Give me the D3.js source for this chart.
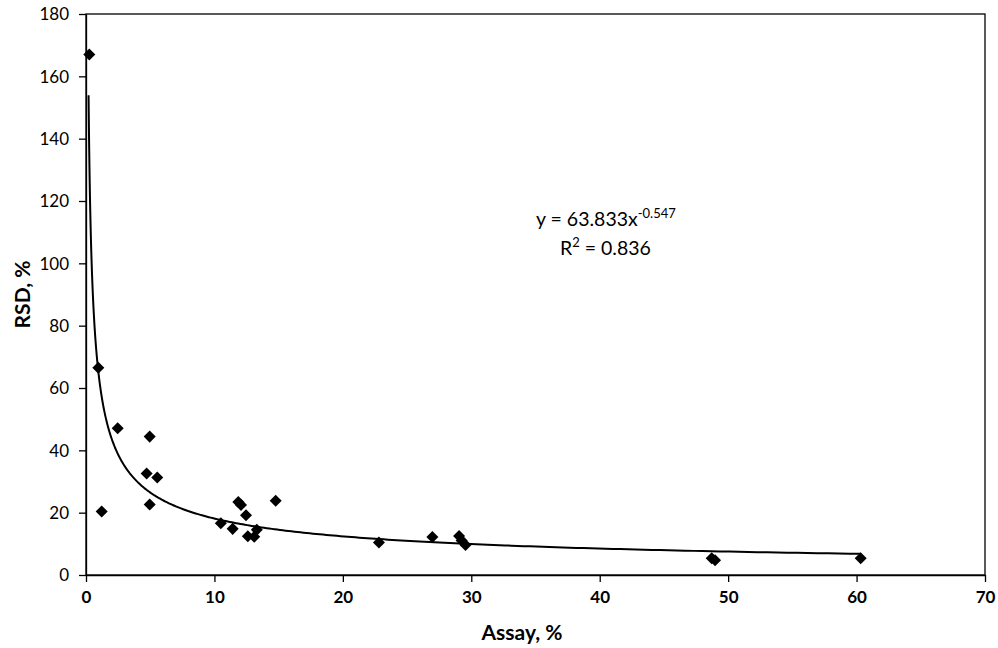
<!DOCTYPE html>
<html>
<head>
<meta charset="utf-8">
<script src="https://cdn.jsdelivr.net/npm/d3@7"></script>
<style>
  html, body { margin: 0; padding: 0; background: #fff; }
  svg { display: block; font-family: Lato, "Noto Sans", sans-serif; }
</style>
</head>
<body>
<svg id="chart" width="998" height="648"></svg>
<script>
// Data
const assay = [0.26, 0.96, 1.22, 2.47, 4.72, 4.96, 4.96, 5.55, 10.5, 11.42, 11.86, 12.07, 12.46, 12.6, 13.1, 13.3, 14.77, 22.81, 26.97, 29.05, 29.25, 29.55, 48.72, 48.98, 60.32];
const rsd   = [167.0, 66.5, 20.4, 47.1, 32.6, 44.4, 22.6, 31.3, 16.6, 14.8, 23.4, 22.5, 19.2, 12.4, 12.3, 14.5, 23.8, 10.4, 12.2, 12.5, 11.1, 9.6, 5.4, 4.7, 5.4];

// Power trendline shown on the chart: y = 63.833 x^-0.547
const fitCoef = 63.833;
const fitExp = -0.547;
const fitRange = [0.2, 60.32];

const xTicks = [0, 10, 20, 30, 40, 50, 60, 70];
const yTicks = [0, 20, 40, 60, 80, 100, 120, 140, 160, 180];

const svg = d3.select("#chart");
const m = { left: 86, right: 13, top: 14, bottom: 73 };
const W = 998, H = 648;

const x = d3.scaleLinear().domain([0, 70]).range([m.left, W - m.right]);
const y = d3.scaleLinear().domain([0, 180]).range([H - m.bottom, m.top]);

// plot box (top & right)
svg.append("rect")
  .attr("x", x(0)).attr("y", y(180))
  .attr("width", x(70) - x(0)).attr("height", y(0) - y(180))
  .attr("fill", "none").attr("stroke", "#000").attr("stroke-width", 1.3);

const xAxis = svg.append("g")
  .attr("transform", `translate(0,${y(0)})`)
  .call(d3.axisBottom(x).tickValues(xTicks).tickSize(7).tickPadding(9).tickSizeOuter(0));
xAxis.selectAll("text").attr("font-size", 17).attr("font-weight", "bold")
  .attr("font-family", "Lato, sans-serif").attr("fill", "#000");

const yAxis = svg.append("g")
  .attr("transform", `translate(${x(0)},0)`)
  .call(d3.axisLeft(y).tickValues(yTicks).tickSize(7).tickPadding(10).tickSizeOuter(0));
yAxis.selectAll("text").attr("font-size", 17)
  .attr("font-family", "Lato, sans-serif").attr("fill", "#000").attr("dy", "0.35em");

[xAxis, yAxis].forEach(g => {
  g.select(".domain").attr("stroke", "#000").attr("stroke-width", 1.3);
  g.selectAll(".tick line").attr("stroke", "#000").attr("stroke-width", 1.3);
});

// trendline from fitted equation
const fitPts = d3.range(0, 401).map(i => {
  const t = i / 400;
  const xv = Math.exp(Math.log(fitRange[0]) + t * (Math.log(fitRange[1]) - Math.log(fitRange[0])));
  return [xv, fitCoef * Math.pow(xv, fitExp)];
});
svg.append("path")
  .attr("d", d3.line().x(d => x(d[0])).y(d => y(d[1])).curve(d3.curveLinear)(fitPts))
  .attr("fill", "none").attr("stroke", "#000").attr("stroke-width", 2);

// diamond markers
const diamond = d3.symbol().type(d3.symbolDiamond2).size(92);
svg.append("g").selectAll("path")
  .data(assay.map((a, i) => [a, rsd[i]]))
  .join("path")
  .attr("transform", d => `translate(${x(d[0])},${y(d[1])})`)
  .attr("d", diamond)
  .attr("fill", "#000");

// equation text
const eq = svg.append("text")
  .attr("x", 536).attr("y", 226)
  .attr("font-size", 19.5).attr("fill", "#000");
eq.append("tspan").text("y = 63.833x");
eq.append("tspan").attr("dy", -8).attr("font-size", 13).text("-0.547");

const r2 = svg.append("text")
  .attr("x", 560).attr("y", 255)
  .attr("font-size", 19.5).attr("fill", "#000");
r2.append("tspan").text("R");
r2.append("tspan").attr("dy", -8).attr("font-size", 13).text("2");
r2.append("tspan").attr("dy", 8).text(" = 0.836");

// axis titles
svg.append("text")
  .attr("x", 522).attr("y", 640)
  .attr("text-anchor", "middle")
  .attr("font-size", 21).attr("font-weight", "bold").attr("fill", "#000")
  .text("Assay, %");

svg.append("text")
  .attr("transform", `translate(30,${(y(0) + y(180)) / 2}) rotate(-90)`)
  .attr("text-anchor", "middle")
  .attr("font-size", 21).attr("font-weight", "bold").attr("fill", "#000")
  .text("RSD, %");
</script>
</body>
</html>
